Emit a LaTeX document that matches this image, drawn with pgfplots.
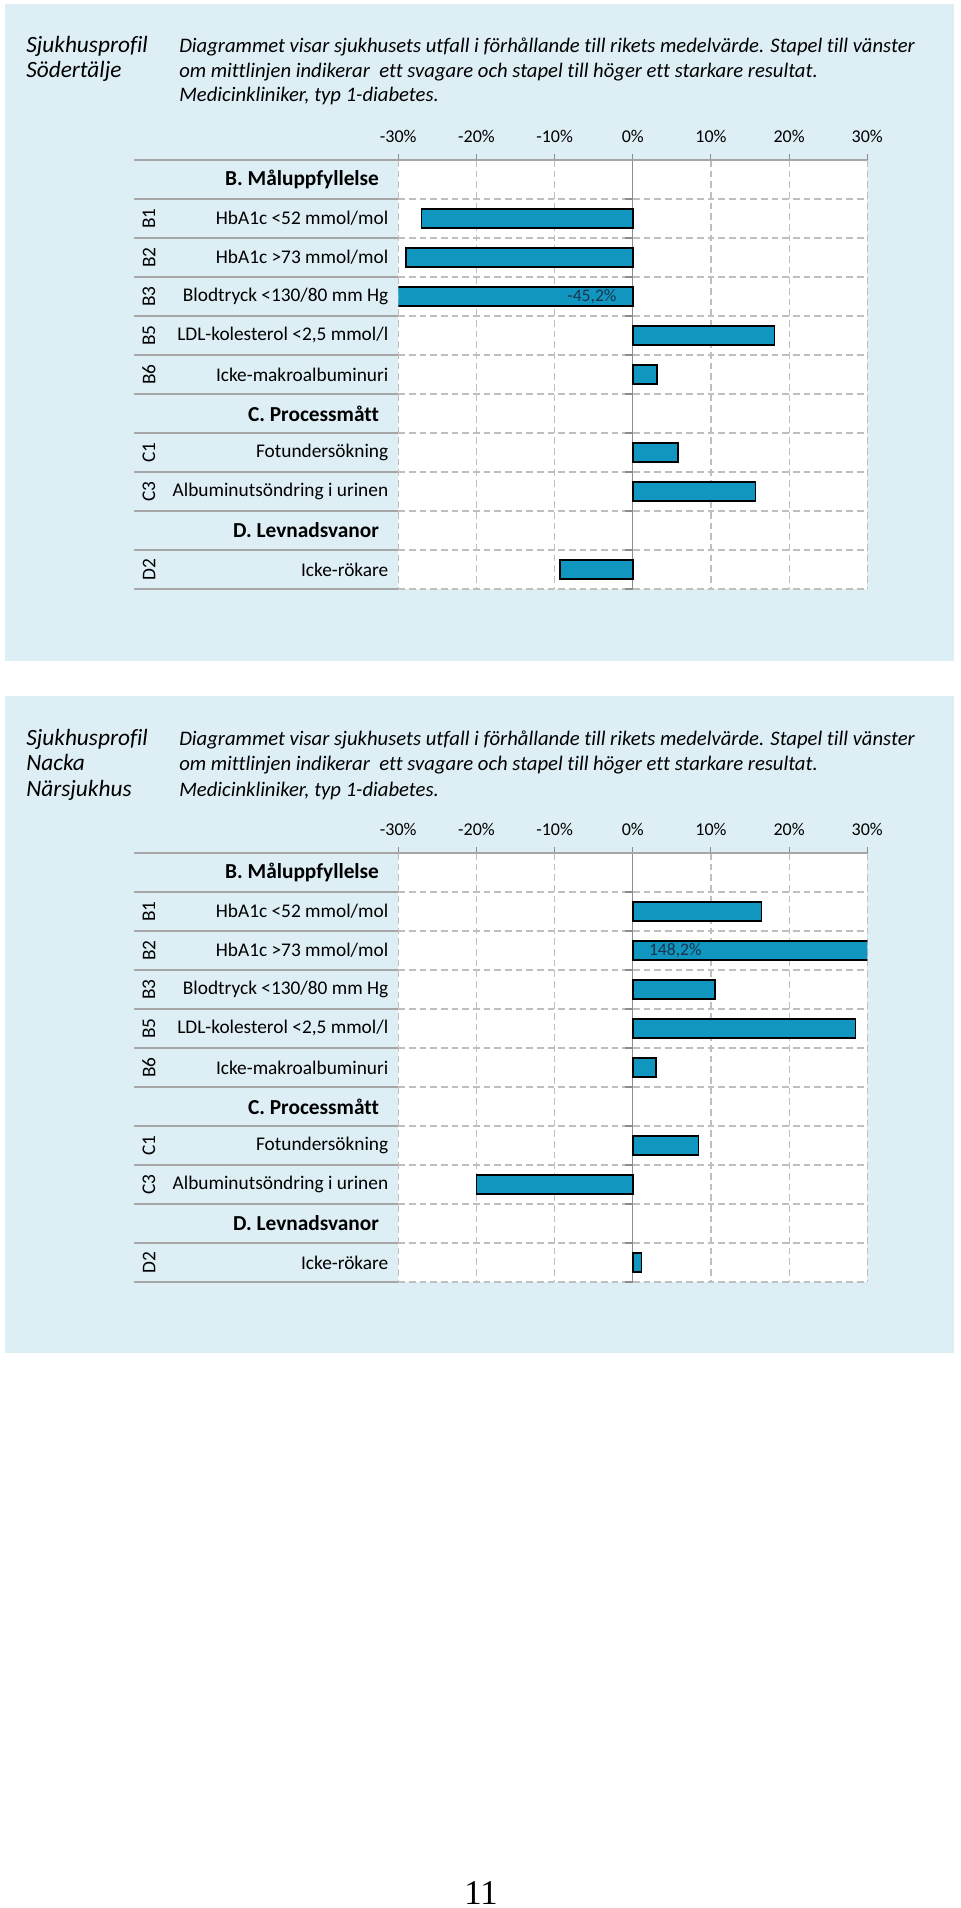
\documentclass[border=0pt]{standalone}
\usepackage{fontspec}
\setmainfont{Carlito}[Ligatures=NoCommon]
\newfontfamily\pagefont{Liberation Serif}
\usepackage{pgfplots}
\pgfplotsset{compat=1.18}

\definecolor{panel}{HTML}{DDEEF5}
\definecolor{barfill}{HTML}{1197BF}
\definecolor{gridc}{HTML}{BFBFBF}
\definecolor{sepc}{HTML}{A6A6A6}
\definecolor{zeroc}{HTML}{8C8C8C}
\definecolor{labc}{HTML}{1A3350}

\newcommand{\lab}{\fontsize{14.5}{16}\selectfont}
\newcommand{\hd}[1]{\fontsize{16}{18}\selectfont\textbf{#1}\kern7pt}
\newcommand{\desc}{\fontsize{15.5}{18}\selectfont\itshape}
\newcommand{\ttl}{\fontsize{17.5}{20}\selectfont\itshape}

\tikzset{vlab/.style={inner sep=0pt, text=labc, font=\fontsize{13.2}{15}\selectfont}}

\pgfplotsset{
  profil/.style={
    xbar, scale only axis, width=351.75pt, height=321.75pt,
    anchor=north west,
    xmin=-30, xmax=30, ymin=-0.5, ymax=10.5, y dir=reverse,
    clip=true,
    axis line style={draw=none},
    axis background/.style={fill=white},
    xtick={-30,-20,-10,0,10,20,30},
    xticklabels={-30\%,-20\%,-10\%,0\%,10\%,20\%,30\%},
    xtick pos=right, xticklabel pos=right,
    tick align=outside, major tick length=4.5pt,
    xtick style={zeroc, line width=0.8pt},
    xticklabel style={font=\fontsize{13.5}{15}\selectfont, yshift=5pt},
    xmajorgrids=true,
    major grid style={gridc, line width=0.9pt, dash pattern=on 5pt off 3pt},
    ytick={0,...,10},
    ytick pos=left, yticklabel pos=left,
    ytick style={draw=none},
    yticklabels={{\hd{B. Måluppfyllelse}},
      {HbA1c <52 mmol/mol},{HbA1c >73 mmol/mol},{Blodtryck <130/80 mm Hg},
      {LDL-kolesterol <2,5 mmol/l},{Icke-makroalbuminuri},
      {\hd{C. Processmått}},{Fotundersökning},{Albuminutsöndring i urinen},
      {\hd{D. Levnadsvanor}},{Icke-rökare}},
    yticklabel style={font=\lab, anchor=east, inner sep=0pt, xshift=-2.8pt},
    minor ytick={-0.5,0.5,...,10.5},
    minor tick length=0pt,
    yminorgrids=true,
    minor grid style={gridc, line width=0.9pt, dash pattern=on 5pt off 3pt},
    extra x ticks={0},
    extra x tick labels={},
    extra x tick style={grid=major, major grid style={zeroc, solid, line width=0.9pt}},
    bar width=14.25pt,
  },
  bars/.style={fill=barfill, draw=black, line width=1.1pt},
}
\newcommand{\zeroticks}{%
  \pgfplotsinvokeforeach{-0.5,0.5,1.5,2.5,3.5,4.5,5.5,6.5,7.5,8.5,9.5,10.5}{%
    \draw[zeroc, line width=0.8pt] (axis cs:0,##1) -- ++(-6pt,0pt);}%
}

\begin{document}
\begin{tikzpicture}
\path[use as bounding box] (0,0) rectangle (720pt,-1431pt);
\begin{scope}[x=0.75pt,y=-0.75pt]
  \fill[panel] (5,4) rectangle (954,661);
  \fill[panel] (5,696) rectangle (954,1353);
\end{scope}

% Chart 1: Sodertalje
\begin{axis}[profil, at={(298.7pt,-120pt)}]
  \zeroticks
  \addplot[bars] coordinates {(-27.0,1) (-29.0,2) (-45.2,3) (18.1,4) (3.1,5) (5.8,7) (15.7,8) (-9.3,10)};
  \node[vlab, anchor=east, xshift=-12pt] at (axis cs:0,3) {-45,2\%};
\end{axis}

% Chart 2: Nacka
\begin{axis}[profil, at={(298.7pt,-639.75pt)}]
  \zeroticks
  \addplot[bars] coordinates {(16.5,1) (148.2,2) (10.5,3) (28.5,4) (3.0,5) (8.4,7) (-20.0,8) (1.1,10)};
  \node[vlab, anchor=west, xshift=12pt] at (axis cs:0,2) {148,2\%};
\end{axis}

\begin{scope}[x=0.75pt,y=-0.75pt]
  \foreach \Y in {160,853} {
    \foreach \k in {0,...,11} {
      \draw[sepc, line width=1.5pt] (134,{\Y+39*\k}) -- (398.3,{\Y+39*\k});
    }
    \draw[sepc, line width=1.5pt] (134,\Y) -- (867.3,\Y);
    \foreach \i/\c in {1/B1,2/B2,3/B3,4/B5,5/B6,7/C1,8/C3,10/D2} {
      \node[rotate=90, font=\lab, inner sep=0pt] at (149,{\Y+39*(\i+0.5)}) {\c};
    }
  }
  % texts panel 1
  \node[anchor=base west, inner sep=0pt, font=\ttl] at (26,52.7) {Sjukhusprofil};
  \node[anchor=base west, inner sep=0pt, font=\ttl] at (26,77.3) {Södertälje};
  \node[anchor=base west, inner sep=0pt, font=\desc] at (179,52.7) {Diagrammet visar sjukhusets utfall i förhållande till rikets medelvärde. Stapel till vänster};
  \node[anchor=base west, inner sep=0pt, font=\desc] at (179,77.3) {om mittlinjen indikerar~ ett svagare och stapel till höger ett starkare resultat.};
  \node[anchor=base west, inner sep=0pt, font=\desc] at (179,101.7) {Medicinkliniker, typ 1-diabetes.};
  % texts panel 2
  \node[anchor=base west, inner sep=0pt, font=\ttl] at (26,745) {Sjukhusprofil};
  \node[anchor=base west, inner sep=0pt, font=\ttl] at (26,770.7) {Nacka};
  \node[anchor=base west, inner sep=0pt, font=\ttl] at (26,796.7) {Närsjukhus};
  \node[anchor=base west, inner sep=0pt, font=\desc] at (179,745) {Diagrammet visar sjukhusets utfall i förhållande till rikets medelvärde. Stapel till vänster};
  \node[anchor=base west, inner sep=0pt, font=\desc] at (179,770.7) {om mittlinjen indikerar~ ett svagare och stapel till höger ett starkare resultat.};
  \node[anchor=base west, inner sep=0pt, font=\desc] at (179,796.7) {Medicinkliniker, typ 1-diabetes.};
  % page number
  \node[anchor=base, inner sep=0pt, font=\pagefont\fontsize{26}{28}\selectfont] at (481,1904) {11};
\end{scope}
\end{tikzpicture}
\end{document}
